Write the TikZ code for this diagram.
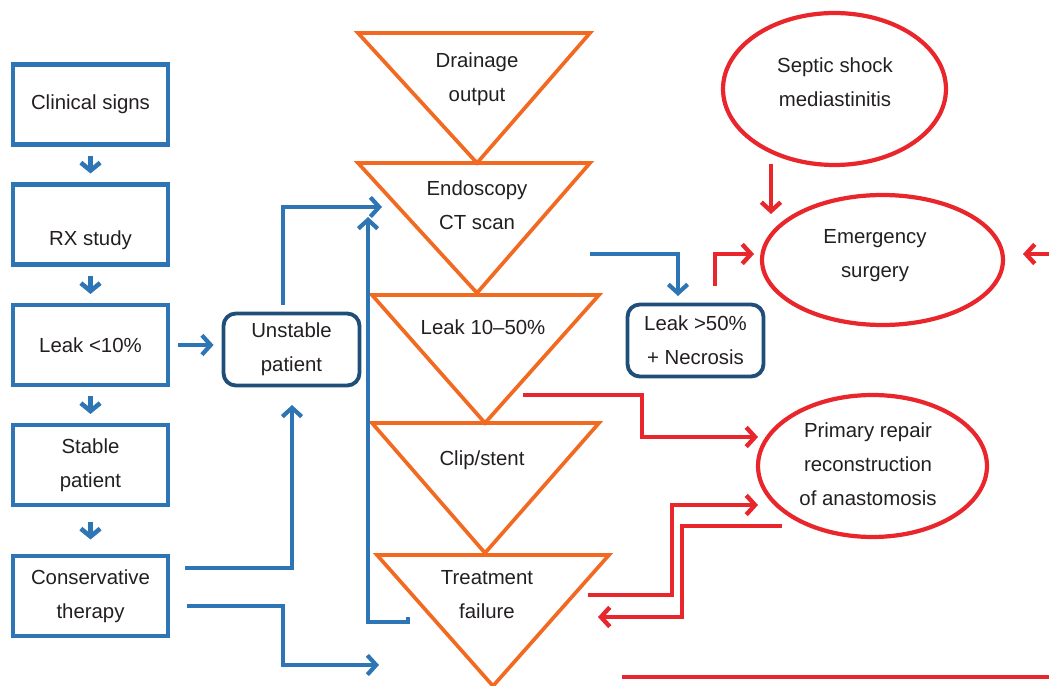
\documentclass[tikz,border=0pt]{standalone}
\usepackage{fontspec}
\setmainfont{Liberation Sans}
\usepackage{tikz}
\usetikzlibrary{positioning,arrows.meta,shapes.geometric}

\definecolor{flowblue}{HTML}{2E75B6}
\definecolor{darkblue}{HTML}{1F4E79}
\definecolor{triorange}{HTML}{F26A21}
\definecolor{alertred}{HTML}{E8262B}
\definecolor{ink}{HTML}{231F20}

\tikzset{
  txt/.style={align=center, text=ink, font=\fontsize{11.6}{19.4}\selectfont, inner sep=0pt},
  leftbox/.style={txt, draw=flowblue, line width=2.3pt, minimum width=3.1cm, minimum height=1.6cm},
  roundbox/.style={txt, draw=darkblue, line width=2.2pt, rounded corners=7pt, minimum width=2.72cm, minimum height=1.44cm},
  redoval/.style={draw=alertred, line width=2.4pt, ellipse, inner sep=0pt},
  tri/.style={draw=triorange, line width=2.1pt},
  bluearr/.style={draw=flowblue, line width=2.4pt, -{Straight Barb[length=5pt,width=11pt]}},
  redarr/.style={draw=alertred, line width=2.5pt, -{Straight Barb[length=5pt,width=11pt]}},
}

\begin{document}
\begin{tikzpicture}[x=0.02cm, y=-0.02cm]

        \useasboundingbox (0,0) rectangle (1049,686);

        % left column
        \node[leftbox] (clin) at (90.5,104.5) {Clinical signs};
        \node[leftbox] (rx) at (90.5,224.5) {};
        \node[txt] (rxlbl) at (90.5,240) {RX study};
        \node[leftbox] (leak) at (90.5,345) {Leak <10\%};
        \node[leftbox] (stable) at (90.5,465) {Stable\\patient};
        \node[leftbox] (cons) at (90.5,596) {Conservative\\therapy};

        \foreach \a/\b/\s in {clin/rx/0.18cm, rx/leak/0.18cm, leak/stable/0.18cm, stable/cons/0.29cm}
            \path[bluearr, line width=2.6pt, -{Straight Barb[length=4.5pt,width=11pt]}, shorten <=\s, shorten >=\s] (\a) -- (\b);

        \node[roundbox] (unstable) at (291.5,349.5) {Unstable\\patient};
        \node[roundbox] (necro) at (695.5,340.5) {Leak >50\%\\+ Necrosis};

        % triangles
        \foreach \n/\xl/\yt/\xr/\xa/\ya in {drain/358/33/590/477/163, endo/358/163/590/477/293, midleak/372/295/599/485/423, clip/372/423/599/485/553, fail/377/555/609/493/686}{
            \coordinate (\n-l) at (\xl,\yt);
            \coordinate (\n-r) at (\xr,\yt);
            \coordinate (\n-a) at (\xa,\ya);
            \path[tri] (\n-l) -- (\n-r) -- (\n-a) -- cycle;
        }

        \node[txt] (drain) at (477,79) {Drainage\\output};
        \node[txt] (endo) at (477,205) {Endoscopy\\CT scan};
        \node[txt] (midleak) at (483,327) {Leak 10--50\%};
        \node[txt] (clip) at (482,460) {Clip/stent};
        \node[txt] (fail) at (487,595) {Treatment\\failure};

        % ellipses
        \node[redoval, minimum width=4.46cm, minimum height=3.04cm] (septic) at (834.5,89) {};
        \node[txt] (septiclbl) at (835,82) {Septic shock\\mediastinitis};
        \node[redoval, minimum width=4.82cm, minimum height=2.6cm] (emerg) at (882.5,260) {};
        \node[txt] (emerglbl) at (875,256) {Emergency\\surgery};
        \node[redoval, minimum width=4.58cm, minimum height=2.84cm] (repair) at (872.5,466) {};
        \node[txt] (repairlbl) at (868,464) {Primary repair\\reconstruction\\of anastomosis};

        \coordinate (unst-up) at (283,305);
        \coordinate (endo-in) at (382,207);
        \coordinate (cons-r1) at (185,568);
        \coordinate (unst-in) at (292,405);
        \coordinate (cons-r2) at (187,606);
        \coordinate (cons-mid) at (283,636);
        \coordinate (fail-in) at (379,665);
        \coordinate (fail-back) at (408,617);
        \coordinate (endo-up) at (368,217);
        \coordinate (endo-out) at (590,254);
        \coordinate (necro-in) at (678,296);
        \coordinate (necro-out) at (715,286);
        \coordinate (emerg-in) at (754,254);
        \coordinate (septic-out) at (771,164);
        \coordinate (emerg-top) at (771,214);
        \coordinate (right-edge) at (1049,254);
        \coordinate (emerg-r) at (1023,254);
        \coordinate (midleak-out) at (523,395);
        \coordinate (repair-mid1) at (642,437);
        \coordinate (repair-in1) at (758,437);
        \coordinate (fail-out) at (588,595);
        \coordinate (repair-mid2) at (672,505);
        \coordinate (repair-in2) at (758,505);
        \coordinate (repair-out) at (782,526);
        \coordinate (fail-mid) at (682,617);
        \coordinate (fail-in2) at (598,617);
        \coordinate (base-l) at (622,677);
        \coordinate (base-r) at (1049,677);

        \path[bluearr, shorten <=0.16cm, shorten >=0.16cm] (leak.east) -- (leak.east -| unstable.west);
        \path[bluearr] (unst-up) |- (endo-in);
        \path[bluearr] (cons-r1) -| (unst-in);
        \path[bluearr] (cons-r2) -| (cons-mid) |- (fail-in);
        \path[bluearr] (fail-back) -- ++(0,5) -| (endo-up);
        \path[bluearr] (endo-out) -| (necro-in);

        \path[redarr] (necro-out) |- (emerg-in);
        \path[redarr] (septic-out) -- (emerg-top);
        \path[redarr] (right-edge) -- (emerg-r);
        \path[redarr] (midleak-out) -| (repair-mid1) -- (repair-in1);
        \path[redarr] (fail-out) -| (repair-mid2) -- (repair-in2);
        \path[redarr] (repair-out) -| (fail-mid) -- (fail-in2);
        \path[draw=alertred, line width=2.5pt] (base-l) -- (base-r);

\end{tikzpicture}
\end{document}
